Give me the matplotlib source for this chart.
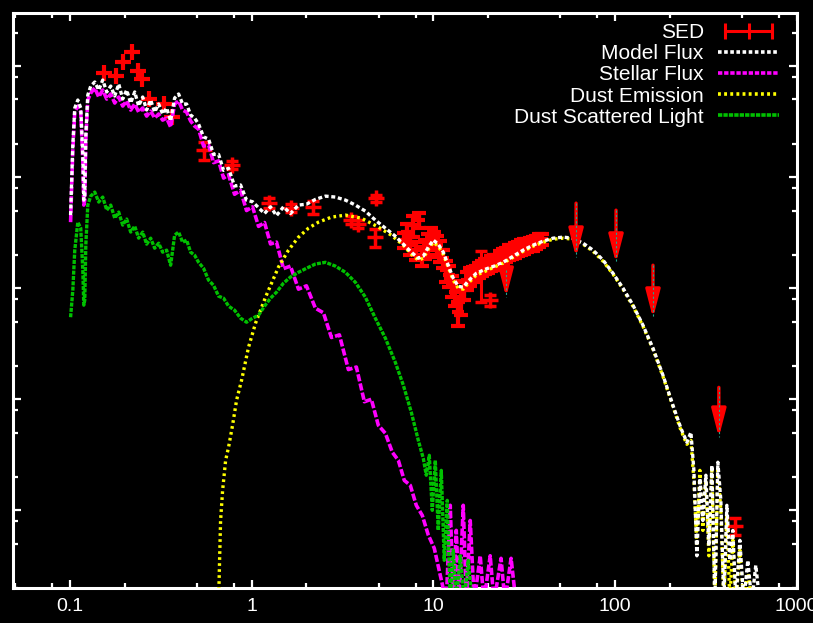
import matplotlib
matplotlib.use("Agg")
import matplotlib.pyplot as plt
from matplotlib.ticker import LogLocator, NullFormatter, FixedLocator, FixedFormatter
from matplotlib.legend_handler import HandlerLine2D
from matplotlib.lines import Line2D

# wavelength in micron, flux in arbitrary units (the y axis carries no labels)
stellar_wave = [0.101, 0.1039, 0.1065, 0.1107, 0.1149, 0.1179, 0.1194, 0.1209, 0.1225, 0.1256,
                0.1304, 0.1372, 0.1443, 0.1518, 0.1597, 0.1680, 0.1767, 0.1859, 0.1955, 0.2056,
                0.2163, 0.2276, 0.2393, 0.2518, 0.2648, 0.2786, 0.2931, 0.3083, 0.3243, 0.3411,
                0.3588, 0.3774, 0.3970, 0.4176, 0.4393, 0.4622, 0.4861, 0.5113, 0.5446, 0.5803,
                0.6183, 0.6589, 0.7017, 0.7475, 0.8065, 0.8702, 0.9387, 1.013, 1.093, 1.179,
                1.272, 1.372, 1.499, 1.638, 1.813, 2.005, 2.247, 2.487, 2.752, 3.044,
                3.412, 3.775, 4.177, 4.563, 4.986, 5.449, 5.954, 6.424, 6.929, 7.475,
                8.065, 8.702, 9.387, 10.13, 10.93, 11.79, 12.40, 12.88, 13.38, 13.90,
                14.62, 15.20, 15.97, 16.80, 18.13, 19.00, 20.57, 21.60, 23.60, 24.80,
                26.80, 28.50]
stellar_flux = [393, 1750, 3850, 4360, 3850, 1420, 560, 620, 2150, 4940,
                5710, 6340, 5260, 6080, 5040, 5600, 4640, 5260, 4360, 4840,
                4010, 4550, 3850, 4190, 3540, 3930, 3400, 3700, 3260, 3400,
                2820, 4550, 4840, 4010, 3850, 3200, 2880, 2700, 1900, 1950,
                1350, 1400, 980, 1050, 700, 760, 500, 540, 360, 390,
                250, 260, 150, 158, 98, 105, 66, 60, 36, 38,
                18.5, 19.5, 9.5, 10, 5.83, 4.94, 3.33, 2.82, 1.86, 1.68,
                1.11, 0.90, 0.60, 0.455, 0.26, 0.15, 1.11, 0.15, 0.66, 0.15,
                1.11, 0.15, 0.81, 0.15, 0.39, 0.15, 0.39, 0.15, 0.37, 0.15,
                0.37, 0.15]

model_wave = [0.101, 0.1039, 0.1065, 0.1107, 0.1149, 0.1179, 0.1194, 0.1209, 0.1225, 0.1256,
              0.1304, 0.1372, 0.1443, 0.1518, 0.1597, 0.1680, 0.1767, 0.1859, 0.1955, 0.2056,
              0.2163, 0.2276, 0.2393, 0.2518, 0.2648, 0.2786, 0.2931, 0.3083, 0.3243, 0.3411,
              0.3588, 0.3774, 0.3970, 0.4176, 0.4393, 0.4622, 0.4861, 0.5113, 0.5446, 0.5803,
              0.6183, 0.6589, 0.7017, 0.7475, 0.8065, 0.8702, 0.9387, 1.013, 1.093, 1.179,
              1.272, 1.372, 1.499, 1.638, 1.813, 2.005, 2.247, 2.551, 2.894, 3.284,
              3.727, 4.230, 4.800, 5.449, 6.183, 6.842, 7.570, 8.272, 8.813, 9.387,
              10.0, 10.65, 11.35, 12.09, 12.88, 13.72, 14.62, 15.57, 17.23, 19.31,
              21.64, 24.24, 27.52, 31.23, 35.44, 40.21, 45.63, 51.8, 58.8, 66.7,
              75.7, 85.9, 97.5, 110.7, 125.6, 142.5, 161.8, 183.5, 208.3, 230.5,
              248.7, 261.6, 271.7, 282.1, 293.1, 304.4, 316.2, 328.5, 341.2, 354.4,
              368.1, 382.3, 397.2, 412.5, 428.5, 445.1, 462.3, 486.3, 511.3, 537.9,
              565.7, 595.1, 625.9]
model_flux = [455, 1940, 4190, 4940, 4190, 1580, 621, 689, 2390, 5480,
              6600, 7180, 6080, 7480, 5840, 6600, 5370, 6890, 5050, 6080,
              4640, 5840, 4370, 5260, 4020, 4940, 3850, 4550, 3700, 4190,
              3200, 5150, 5600, 4550, 4550, 3620, 3400, 3000, 2300, 2200,
              1600, 1600, 1150, 1200, 830, 850, 620, 600, 530, 470,
              540, 450, 540, 470, 560, 570, 630, 674, 661, 621,
              560, 494, 410, 347, 294, 249, 211, 186, 194, 234,
              271, 249, 211, 161, 123, 104, 102, 116, 136, 148,
              158, 171, 194, 220, 244, 265, 282, 288, 282, 254,
              220, 179, 136, 100, 70.3, 46.4, 28.8, 16.5, 8.83, 5.48,
              4.10, 5.04, 2.29, 0.39, 1.94, 0.81, 2.07, 0.48, 2.54, 0.15,
              2.71, 1.23, 0.15, 1.11, 0.355, 0.66, 0.15, 0.537, 0.15, 0.355,
              0.15, 0.32, 0.15]

dust_wave = [0.6589, 0.6671, 0.6756, 0.6931, 0.7201, 0.7475, 0.7863, 0.8272, 0.8813, 0.9627,
             1.052, 1.194, 1.407, 1.597, 1.813, 2.057, 2.334, 2.752, 3.284, 4.021,
             4.986, 5.877, 6.842, 7.570, 8.272, 8.813, 9.387, 10.0, 10.65, 11.35,
             12.09, 12.88, 13.72, 14.62, 15.57, 17.23, 19.31, 21.64, 24.24, 27.52,
             31.23, 35.44, 40.21, 45.63, 51.8, 58.8, 66.7, 75.7, 85.9, 97.5,
             110.7, 125.6, 142.5, 161.8, 183.5, 208.3, 230.5, 248.7, 261.6, 271.7,
             282.1, 293.1, 304.4, 316.2, 328.5, 341.2, 354.4, 368.1, 382.3, 397.2,
             412.5, 428.5, 445.1, 462.3, 486.3, 511.3, 537.9, 565.7]
dust_flux = [0.15, 0.355, 0.81, 1.51, 2.82, 3.70, 5.83, 9.79, 14.8, 29.4,
             48.4, 83, 155, 220, 288, 347, 393, 436, 455, 427,
             355, 300, 244, 202, 179, 186, 224, 259, 239, 202,
             155, 118, 100, 98, 111, 131, 142, 155, 168, 190,
             215, 239, 259, 276, 282, 276, 249, 215, 175, 134,
             98, 68.9, 45.5, 28.2, 16.1, 8.65, 5.26, 3.93, 4.27, 1.86,
             0.48, 2.29, 0.66, 1.86, 0.39, 2.29, 0.15, 2.29, 1.0, 0.15,
             0.90, 0.15, 0.54, 0.15, 0.44, 0.15, 0.29, 0.15]

scat_wave = [0.101, 0.1039, 0.1065, 0.1107, 0.1149, 0.1179, 0.1194, 0.1209, 0.1225, 0.1256,
             0.1304, 0.1372, 0.1443, 0.1518, 0.1597, 0.1680, 0.1767, 0.1859, 0.1955, 0.2056,
             0.2163, 0.2276, 0.2393, 0.2518, 0.2648, 0.2786, 0.2931, 0.3083, 0.3243, 0.3411,
             0.3588, 0.3774, 0.3970, 0.4176, 0.4393, 0.4622, 0.4861, 0.5113, 0.5446, 0.5803,
             0.6183, 0.6589, 0.7017, 0.7475, 0.8065, 0.8702, 0.9387, 1.013, 1.093, 1.179,
             1.272, 1.372, 1.499, 1.638, 1.813, 2.005, 2.247, 2.551, 2.894, 3.284,
             3.727, 4.230, 4.800, 5.449, 6.183, 6.842, 7.570, 8.272, 8.813, 9.153,
             9.51, 9.874, 10.26, 10.65, 11.07, 11.49, 11.94, 12.40, 12.88, 13.38,
             14.07, 14.80, 15.57, 16.39]
scat_flux = [54.8, 95.9, 220, 393, 347, 145, 70.3, 78, 244, 560,
             674, 733, 596, 661, 504, 560, 427, 484, 370, 419,
             320, 362, 282, 320, 249, 282, 229, 254, 211, 220,
             161, 300, 320, 259, 271, 211, 198, 171, 151, 118,
             106, 84.7, 81.3, 68.9, 63.4, 53.7, 49.4, 53.7, 57.1, 68.9,
             81.3, 92, 111, 126, 139, 151, 165, 171, 158, 139,
             113, 83, 53.7, 35.5, 21.5, 13.4, 7.64, 4.27, 2.94, 2.07,
             3.13, 1.0, 2.82, 0.66, 2.29, 0.355, 1.23, 0.15, 0.44, 0.15,
             0.39, 0.15, 0.355, 0.15]

# observed ultraviolet photometry (plain crosses)
uv_wave = [0.1538, 0.1789, 0.1955, 0.2192, 0.2364, 0.2486, 0.2716, 0.3285, 0.3634]
uv_flux = [8650, 8130, 10870, 13370, 9020, 7640, 5050, 4550, 3470]

# other photometry with error bars
phot_wave = [0.5446, 0.7764, 1.240, 1.659, 2.191, 3.544, 3.873, 4.863, 4.800, 18.35, 20.57, 456]
phot_flux = [1750, 1283, 583, 526, 537, 410, 377, 647, 288, 145, 78, 0.73]
phot_err = [330, 100, 60, 45, 75, 35, 30, 50, 55, 70, 9, 0.13]

# mid-infrared spectrum
irs_wave = [6.93, 7.20, 7.48, 7.77, 8.07, 8.38, 8.70, 9.04, 9.39, 9.75,
            10.13, 10.52, 10.93, 11.35, 11.79, 12.24, 12.72, 13.21, 13.72, 14.25,
            14.80, 15.38, 15.97, 16.59, 17.23, 17.89, 18.59, 19.31, 20.06, 20.83,
            21.64, 22.47, 23.34, 24.24, 25.18, 26.16, 27.17, 28.22, 29.31, 30.45,
            31.62, 32.85, 34.12, 35.44, 36.81, 38.23, 39.71]
irs_flux = [271, 320, 244, 370, 220, 410, 198, 229, 254, 294,
            271, 244, 220, 186, 145, 131, 106, 92, 60.8, 78,
            96, 118, 128, 134, 139, 145, 151, 158, 161, 168,
            171, 171, 186, 194, 202, 211, 215, 220, 229, 234,
            239, 244, 249, 254, 259, 271, 276]
irs_err = [41, 61, 46, 81, 42, 62, 38, 44, 56, 56,
           51, 54, 48, 35, 32, 29, 23, 23, 15, 21,
           18, 22, 24, 20, 21, 22, 23, 24, 24, 25,
           26, 26, 28, 29, 30, 32, 32, 33, 34, 35,
           36, 34, 35, 36, 36, 38, 33]

# upper limits: arrow start and arrow tip
lim_wave = [25.18, 61.06, 101.3, 161.8, 372.7]
lim_top = [145, 583, 504, 161, 12.8]
lim_tip = [83, 190, 168, 53.7, 4.55]

x_ticks = [0.1, 1, 10, 100, 1000]
x_labels = ["0.1", "1", "10", "100", "1000"]


fig = plt.figure(figsize=(8.13, 6.23), dpi=100, facecolor="black")
ax = fig.add_axes([0.016, 0.0562, 0.964, 0.9229], facecolor="black")

ax.set_xscale("log")
ax.set_yscale("log")
ax.set_xlim(0.0487, 1000)
ax.set_ylim(0.2, 30000)

ax.plot(uv_wave, uv_flux, "+", color="red", ms=12, mew=3, zorder=2)
ax.errorbar(phot_wave, phot_flux, yerr=phot_err, fmt="+", color="red",
            ms=11, mew=2.5, elinewidth=2.2, capsize=4, capthick=2.2, zorder=2)
ax.errorbar(irs_wave, irs_flux, yerr=irs_err, fmt="+", color="red",
            ms=8, mew=3, elinewidth=3, capsize=5, capthick=2.5, zorder=2)

ax.plot(stellar_wave, stellar_flux, color="#ff00ff", lw=2.6, dashes=(2, 0.6), zorder=3)
ax.plot(dust_wave, dust_flux, color="#ffff00", lw=2.4, dashes=(0.8, 1.0), zorder=3.5)
ax.plot(scat_wave, scat_flux, color="#00c000", lw=2.4, dashes=(1.2, 0.4), zorder=4)
ax.plot(model_wave, model_flux, color="white", lw=2.4, dashes=(1.2, 0.8), zorder=5)

for w, top, tip in zip(lim_wave, lim_top, lim_tip):
    ax.annotate("", xy=(w, tip), xytext=(w, top),
                arrowprops=dict(arrowstyle="-|>,head_length=0.85,head_width=0.22",
                                color="red", lw=2.4, mutation_scale=20,
                                shrinkA=0, shrinkB=0),
                zorder=6)
    # thin dashed core seen inside the gnuplot arrows
    ax.plot([w, w], [top, tip], color="#20a890", lw=0.8, dashes=(2, 2), zorder=7)

# frame and ticks, gnuplot style
for s in ax.spines.values():
    s.set_color("white")
    s.set_linewidth(2.2)
ax.xaxis.set_major_locator(FixedLocator(x_ticks))
ax.xaxis.set_major_formatter(FixedFormatter(x_labels))
ax.xaxis.set_minor_locator(LogLocator(base=10, subs=(2, 5, 8), numticks=20))
ax.xaxis.set_minor_formatter(NullFormatter())
ax.yaxis.set_major_locator(LogLocator(base=10, numticks=20))
ax.yaxis.set_minor_locator(LogLocator(base=10, subs=(2, 5, 8), numticks=20))
ax.yaxis.set_major_formatter(NullFormatter())
ax.yaxis.set_minor_formatter(NullFormatter())
ax.tick_params(which="both", direction="in", colors="white", top=True, right=True,
               labelcolor="white", labelsize=14, pad=7)
ax.tick_params(which="major", length=6, width=1.6)
ax.tick_params(which="minor", length=3.5, width=1.6)
for lab in ax.get_xticklabels():
    lab.set_family("Liberation Sans")

handles = [
    Line2D([], [], color="red", lw=2.2, marker="|", ms=12, mew=2.2),
    Line2D([], [], color="white", lw=2.6, dashes=(1.0, 0.7)),
    Line2D([], [], color="#ff00ff", lw=2.6, dashes=(1.2, 0.5)),
    Line2D([], [], color="#ffff00", lw=2.6, dashes=(0.8, 0.9)),
    Line2D([], [], color="#00c000", lw=2.6, dashes=(1.2, 0.3)),
]
labels = ["SED", "Model Flux", "Stellar Flux", "Dust Emission", "Dust Scattered Light"]
leg = ax.legend(handles, labels, loc="upper right", bbox_to_anchor=(0.985, 0.993),
                frameon=False, markerfirst=False, handlelength=2.9, handletextpad=0.7,
                labelspacing=0.1, borderaxespad=0, borderpad=0.3,
                prop={"family": "Liberation Sans", "size": 15},
                handler_map={handles[0]: HandlerLine2D(numpoints=3)})
for t in leg.get_texts():
    t.set_color("white")

fig.savefig("out.png", dpi=100, facecolor="black")
